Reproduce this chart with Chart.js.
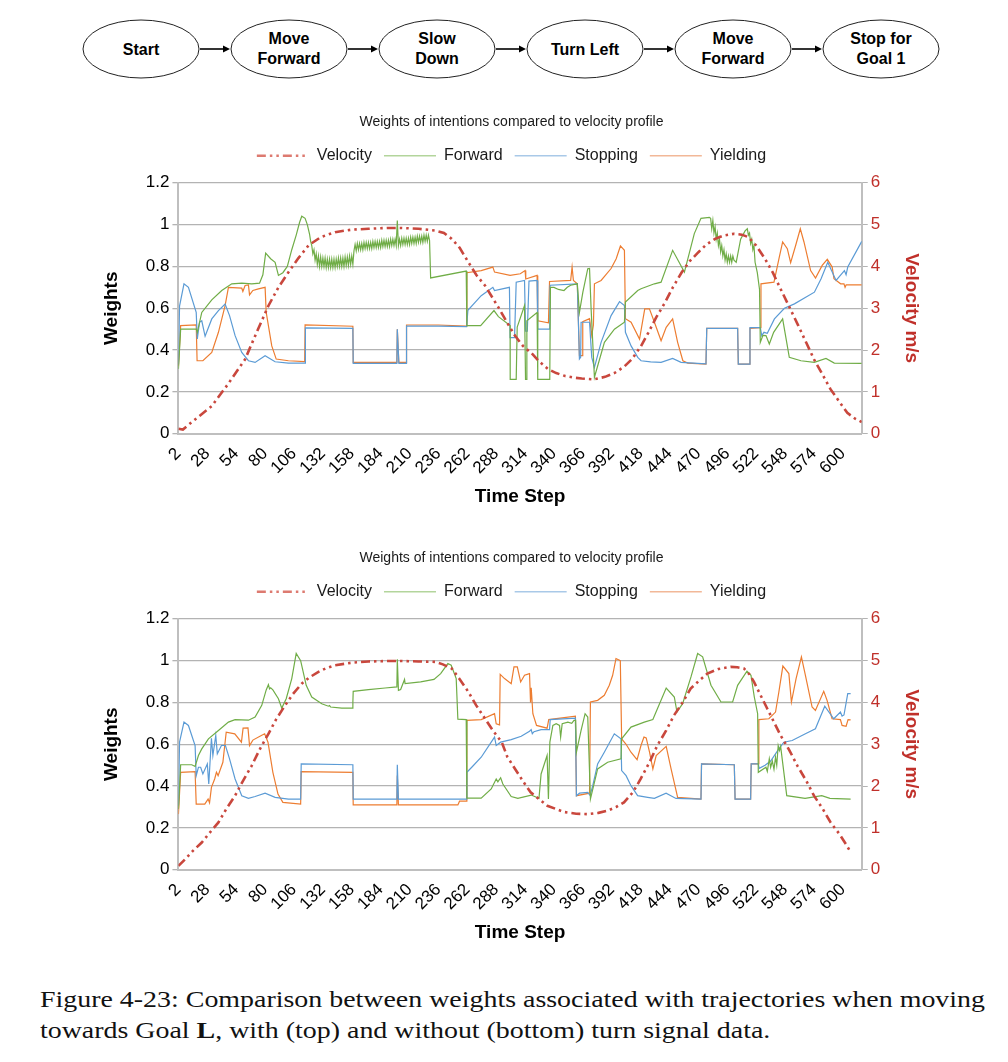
<!DOCTYPE html>
<html>
<head>
<meta charset="utf-8">
<script src="https://cdn.jsdelivr.net/npm/chart.js@4.4.0/dist/chart.umd.min.js"></script>
<style>
body { margin: 0; background: #fff; width: 1008px; height: 1062px; position: relative; overflow: hidden; font-family: "Liberation Sans", Arial, sans-serif; }
#flow { position: absolute; left: 0; top: 0; }
.chartBox { position: absolute; left: 0; width: 1008px; height: 420px; }
#caption { position: absolute; left: 40px; top: 984px; font-family: "Liberation Serif", serif; font-size: 23px; line-height: 31px; color: #111; white-space: nowrap; }
#caption span { display: block; transform-origin: left center; }
</style>
</head>
<body>
<svg id="flow" width="1008" height="100"></svg>
<div class="chartBox" style="top:100px"><canvas id="topChart"></canvas></div>
<div class="chartBox" style="top:536px"><canvas id="bottomChart"></canvas></div>
<div id="caption">
  <span>Figure 4-23: Comparison between weights associated with trajectories when moving</span>
  <span>towards Goal <b>L</b>, with (top) and without (bottom) turn signal data.</span>
</div>
<script>
// --- labels & ticks ---
const flowLabels = [["Start"], ["Move", "Forward"], ["Slow", "Down"], ["Turn Left"], ["Move", "Forward"], ["Stop for", "Goal 1"]];
const seriesNames = ["Velocity", "Forward", "Stopping", "Yielding"];
const xTicks = [2, 28, 54, 80, 106, 132, 158, 184, 210, 236, 262, 288, 314, 340, 366, 392, 418, 444, 470, 496, 522, 548, 574, 600];
const weightTicks = [0, 0.2, 0.4, 0.6, 0.8, 1, 1.2];
const weightMinorTicks = [0.1, 0.3, 0.5, 0.7, 0.9, 1.1];
const velocityTicks = [0, 1, 2, 3, 4, 5, 6];

// --- top chart (with turn signal): [time step, value] ---
const topVelocity = [[2,0.12],[6,0.1],[15,0.3],[32,0.66],[47,1.2],[62,1.78],[72,2.4],[83,3.06],[92,3.5],[101,3.86],[110,4.2],[119,4.5],[130,4.7],[143,4.82],[158,4.88],[173,4.9],[190,4.92],[203,4.92],[218,4.9],[233,4.86],[241,4.8],[248,4.66],[255,4.45],[263,4.1],[270,3.8],[278,3.54],[290,3.02],[298,2.65],[305,2.34],[312,2.1],[320,1.92],[327,1.72],[335,1.54],[342,1.45],[350,1.38],[358,1.34],[365,1.32],[376,1.3],[386,1.36],[395,1.46],[403,1.6],[410,1.78],[418,2.08],[425,2.42],[432,2.78],[440,3.14],[447,3.5],[455,3.86],[462,4.12],[470,4.34],[477,4.52],[485,4.66],[493,4.74],[502,4.78],[509,4.76],[515,4.7],[522,4.5],[530,4.18],[537,3.85],[544,3.46],[552,3.02],[560,2.58],[567,2.18],[574,1.78],[582,1.4],[589,1.06],[597,0.76],[604,0.5],[611,0.36],[617,0.28]];

const topForwardA = [[2,0.31],[4,0.5],[18,0.5],[19,0.485],[23,0.58],[32,0.64],[41,0.685],[50,0.717],[59,0.72],[68,0.717],[75,0.72],[78,0.76],[80.5,0.864],[85,0.837],[89,0.82],[92,0.757],[96,0.77],[100,0.8],[104,0.88],[108,0.95],[111,1.01],[113,1.04],[116,1.03],[118,1.0],[120,0.955],[121,0.92]];
const topForwardZig1 = [[122,0.9],[123,0.86],[124,0.88],[125,0.83],[126,0.86],[127,0.81],[128,0.85],[129,0.8],[130,0.845],[131,0.8],[132,0.84],[133,0.8],[134,0.84],[135,0.795],[136,0.835],[137,0.795],[138,0.835],[139,0.795],[140,0.835],[141,0.795],[142,0.835],[143,0.795],[144,0.835],[145,0.8],[146,0.84],[147,0.8],[148,0.84],[149,0.8],[150,0.84],[151,0.8],[152,0.845],[153,0.805],[154,0.845],[155,0.805],[156,0.85],[157,0.81],[158,0.85],[159,0.81]];
const topForwardZig2 = [[160,0.875],[161,0.905],[162,0.875],[163,0.91],[164,0.88],[165,0.91],[166,0.88],[167,0.91],[168,0.88],[169,0.915],[170,0.885],[171,0.915],[172,0.885],[173,0.915],[174,0.885],[175,0.915],[176,0.885],[177,0.92],[178,0.89],[179,0.92],[180,0.89],[181,0.92],[182,0.89],[183,0.92],[184,0.89],[185,0.925],[186,0.895],[187,0.925],[188,0.895],[189,0.925],[190,0.895],[191,0.925],[192,0.895],[193,0.93],[194,0.9],[195,0.93],[196,0.9],[197,0.93],[198,0.9],[199,1.02],[200,0.9],[201,0.93],[202,0.9],[203,0.935],[204,0.905],[205,0.935],[206,0.905],[207,0.935],[208,0.905],[209,0.935],[210,0.905],[211,0.94],[212,0.91],[213,0.94],[214,0.91],[215,0.94],[216,0.91],[217,0.945],[218,0.915],[219,0.945],[220,0.915],[221,0.945],[222,0.915],[223,0.95],[224,0.92],[225,0.95],[226,0.92],[227,0.95],[228,0.925]];
const topForwardB = [[229,0.745],[261,0.778],[261.6,0.517],[274,0.517],[286,0.589],[290,0.56],[300.5,0.517],[300.6,0.26],[306,0.26],[306.9,0.51],[313.5,0.613],[314.4,0.26],[315.5,0.26],[315.6,0.54],[324.8,0.58],[325.4,0.26],[336.2,0.26],[336.8,0.7],[340,0.7],[344,0.69],[349,0.685],[352,0.7],[355,0.71],[361,0.717],[362.9,0.58],[366,0.677],[370.4,0.789],[372,0.79],[373.4,0.6],[376.4,0.27],[385.4,0.437],[394.4,0.5],[403.4,0.533],[404.3,0.63],[415.4,0.685],[418.4,0.693],[430.4,0.717],[436.4,0.725],[446.8,0.877],[457.4,0.773],[466.3,0.957],[472.3,1.03],[479.8,1.035]];
const topForwardZig3 = [[481,1.03],[482,0.98],[483,1.02],[484,0.96],[485,0.99],[486,0.93],[487,0.96],[488,0.9],[489,0.93],[490,0.87],[491,0.9],[492,0.85],[493,0.88],[494,0.83],[495,0.86],[496,0.82],[497,0.85],[498,0.82],[499,0.85],[500,0.82],[501,0.85],[502,0.83]];
const topForwardC = [[504,0.82],[508,0.93],[512,0.97],[514,0.98],[515,0.95],[516,0.96],[517,0.91],[518,0.93],[519,0.88],[520,0.9],[521,0.82],[523,0.77],[525,0.69],[525.7,0.437],[528,0.47],[530.8,0.469],[533.8,0.429],[537.7,0.485],[545.8,0.549],[551.8,0.365],[562.3,0.349],[574.3,0.341],[584.8,0.36],[592.3,0.338],[617,0.336]];

const topStopping = [[2,0.33],[3,0.61],[7,0.717],[11,0.7],[18,0.58],[19,0.453],[21,0.533],[23,0.54],[26,0.466],[32,0.549],[38,0.589],[44,0.62],[48,0.565],[53,0.469],[59,0.389],[65,0.349],[71,0.341],[80,0.373],[89,0.344],[101,0.338],[116,0.338],[116.3,0.506],[159,0.504],[159.3,0.336],[198.6,0.336],[199,0.5],[200.4,0.336],[207,0.336],[207.3,0.515],[236,0.515],[261.4,0.512],[262.5,0.59],[274.5,0.66],[285,0.7],[286.5,0.685],[299.9,0.7],[300.5,0.46],[304.5,0.46],[306,0.725],[313.5,0.733],[314.4,0.49],[316,0.49],[317.5,0.73],[324.8,0.733],[325.4,0.5],[336.2,0.5],[336.5,0.71],[361,0.717],[362.9,0.357],[364,0.365],[364.4,0.533],[372,0.533],[374,0.365],[376.4,0.317],[382.4,0.437],[391.4,0.565],[399,0.632],[403.4,0.613],[404.3,0.485],[409.4,0.42],[415.4,0.365],[418.4,0.349],[427,0.344],[436.4,0.341],[446.8,0.36],[454.4,0.341],[476.8,0.334],[477.5,0.504],[505.3,0.504],[505.9,0.333],[515.8,0.333],[516.4,0.507],[525.7,0.507],[527,0.469],[529,0.485],[532,0.48],[538.4,0.549],[547.4,0.6],[556.4,0.621],[574.4,0.677],[580.4,0.741],[586.4,0.82],[593.9,0.733],[601.4,0.78],[602.9,0.76],[604.4,0.797],[617,0.92]];

const topYielding = [[2,0.325],[4,0.517],[18,0.52],[18.8,0.349],[24,0.349],[32,0.389],[38,0.485],[44,0.613],[47,0.7],[59,0.696],[60,0.68],[62,0.709],[65,0.712],[66,0.664],[69,0.685],[74,0.693],[80,0.7],[81,0.58],[86,0.42],[90,0.357],[101,0.349],[115.6,0.345],[116,0.52],[159,0.514],[159.3,0.341],[198.6,0.341],[199,0.5],[200.4,0.341],[207,0.341],[207.3,0.52],[236,0.52],[261,0.515],[261.6,0.77],[274.5,0.78],[285,0.797],[286.5,0.773],[300.5,0.757],[309.7,0.765],[314,0.78],[314.6,0.74],[324.8,0.757],[325.4,0.54],[335,0.53],[336,0.728],[355,0.733],[356.3,0.797],[357.5,0.733],[361,0.717],[362.9,0.373],[365.5,0.373],[365.9,0.536],[372,0.55],[374,0.47],[375.5,0.52],[376.4,0.717],[382.4,0.733],[391.4,0.79],[396,0.837],[399.8,0.898],[403.4,0.877],[404.3,0.55],[409.4,0.533],[417,0.453],[421.7,0.597],[425.9,0.597],[430.4,0.533],[436.4,0.445],[441,0.509],[446.8,0.549],[451.3,0.437],[456,0.349],[460.4,0.338],[476.8,0.333],[477.5,0.504],[505.3,0.504],[505.9,0.333],[515.8,0.333],[516.4,0.504],[525.7,0.507],[526.3,0.717],[538,0.725],[542.5,0.837],[545.8,0.917],[550,0.885],[553,0.818],[557.5,0.9],[561.7,0.98],[565,0.917],[571,0.78],[575.4,0.744],[581.4,0.805],[586,0.834],[590.4,0.797],[592,0.741],[598,0.717],[601,0.717],[602,0.7],[603,0.712],[617,0.712]];

// --- bottom chart (without turn signal) ---
const bottomVelocity = [[2,0.09],[8,0.25],[15,0.45],[23,0.65],[30,0.88],[38,1.13],[45,1.45],[53,1.77],[60,2.12],[68,2.49],[75,2.87],[83,3.25],[90,3.6],[98,3.93],[105,4.2],[113,4.45],[120,4.6],[128,4.73],[135,4.82],[143,4.89],[158,4.95],[173,4.98],[190,4.99],[203,4.99],[218,4.98],[233,4.97],[240,4.91],[248,4.81],[255,4.56],[263,4.25],[270,3.93],[278,3.61],[285,3.33],[293,3.05],[298,2.7],[305,2.41],[312,2.12],[319,1.85],[327,1.68],[334,1.53],[342,1.45],[349,1.38],[360,1.34],[370,1.33],[380,1.36],[388,1.41],[396,1.5],[403,1.61],[411,1.85],[418,2.17],[426,2.57],[433,2.97],[441,3.33],[448,3.69],[456,4.01],[463,4.33],[471,4.53],[478,4.69],[488,4.8],[499,4.85],[505,4.84],[511,4.81],[516,4.67],[520,4.49],[526,4.17],[532,3.85],[538,3.53],[544,3.21],[552,2.85],[559,2.49],[567,2.13],[574,1.77],[582,1.45],[589,1.13],[597,0.85],[603,0.6],[607,0.42]];

const bottomForward = [[2,0.29],[4,0.502],[14,0.502],[17,0.494],[20,0.546],[23,0.578],[29,0.626],[38,0.666],[47,0.706],[53,0.718],[65,0.715],[71,0.73],[77,0.786],[81,0.86],[83,0.885],[84,0.865],[85,0.87],[87,0.86],[92,0.818],[95,0.773],[99,0.818],[104,0.914],[108,1.034],[112,1.0],[117,0.882],[122,0.826],[131,0.794],[137,0.782],[138,0.785],[139,0.778],[149,0.773],[158.5,0.773],[159,0.8],[159.3,0.853],[173,0.861],[188,0.869],[198.6,0.874],[199,1.006],[200,0.858],[202,0.862],[205.5,0.91],[206,0.89],[220,0.898],[232,0.91],[238,0.938],[244.5,0.986],[247.5,0.978],[252,0.914],[253.5,0.72],[261,0.718],[261.6,0.342],[274.5,0.342],[283.5,0.386],[288,0.434],[289.5,0.42],[292,0.44],[294,0.41],[301.5,0.35],[307.5,0.341],[319.5,0.357],[326.5,0.341],[328.4,0.458],[333.8,0.546],[335,0.338],[336.3,0.61],[339,0.69],[342,0.698],[345,0.69],[346,0.634],[347.4,0.698],[352.5,0.706],[356,0.7],[358,0.714],[359.5,0.714],[360.2,0.562],[364.4,0.666],[368,0.746],[370.4,0.73],[372.8,0.338],[379.3,0.482],[388.3,0.514],[400.3,0.53],[400.9,0.626],[409.3,0.682],[421.3,0.706],[429,0.718],[441,0.869],[448.3,0.826],[450.7,0.754],[455.8,0.794],[463.3,0.922],[469.3,1.034],[473.8,1.018],[481.3,0.882],[490.3,0.802],[500.8,0.802],[505.3,0.882],[513.7,0.949],[517.3,0.93],[520.3,0.826],[523.3,0.746],[523.9,0.466],[530.8,0.49],[532,0.47],[533.8,0.53],[535,0.49],[536.5,0.52],[538,0.48],[539.4,0.538],[540.5,0.5],[541.8,0.594],[543,0.57],[544,0.59],[549.5,0.354],[566,0.341],[581,0.354],[588.4,0.341],[607,0.338]];

const bottomStopping = [[2,0.306],[3,0.61],[7,0.706],[11,0.69],[17,0.594],[18,0.45],[20,0.49],[22,0.49],[24,0.458],[28,0.506],[29.3,0.41],[31.7,0.629],[33,0.546],[35.6,0.642],[37,0.554],[40.7,0.594],[44.3,0.594],[48,0.53],[53,0.434],[59,0.354],[65,0.341],[71,0.35],[80,0.366],[89,0.346],[101,0.338],[112,0.338],[112.5,0.506],[159,0.502],[159.3,0.338],[198.6,0.338],[199,0.502],[200,0.338],[261,0.338],[261.6,0.466],[266,0.49],[274.5,0.538],[286.5,0.634],[288,0.594],[292,0.61],[301.5,0.622],[310.5,0.638],[318,0.662],[319.5,0.67],[320.5,0.65],[322,0.66],[328.4,0.67],[336,0.67],[336.6,0.718],[359.3,0.725],[360.2,0.354],[363,0.366],[370.4,0.37],[372.5,0.355],[374.9,0.402],[379.3,0.506],[385.3,0.562],[394.3,0.65],[400.3,0.626],[400.9,0.474],[404.9,0.45],[409.3,0.402],[415.3,0.354],[424.3,0.346],[430.4,0.341],[440.9,0.366],[449.8,0.341],[472.3,0.338],[472.8,0.506],[502.3,0.502],[503,0.338],[517,0.338],[517.5,0.506],[523.8,0.506],[524.8,0.485],[530,0.5],[535,0.52],[542.4,0.578],[546.9,0.61],[554.4,0.618],[566.3,0.65],[575.3,0.674],[583.7,0.782],[591.8,0.722],[597.8,0.754],[599.3,0.735],[601,0.74],[604.4,0.842],[607,0.842]];

const bottomYielding = [[2,0.266],[4,0.466],[17,0.469],[18,0.314],[25.7,0.314],[28.7,0.338],[30,0.32],[31.7,0.394],[34.6,0.434],[36.2,0.466],[37.7,0.45],[42,0.514],[45,0.658],[52.7,0.65],[58.7,0.61],[60.2,0.677],[64.6,0.678],[66,0.594],[69,0.62],[76.6,0.642],[79.6,0.65],[82.6,0.61],[87,0.466],[91.6,0.362],[96,0.322],[112,0.314],[112.5,0.469],[159,0.466],[159.3,0.31],[198.6,0.31],[199,0.45],[200,0.31],[253.5,0.31],[255,0.328],[261,0.328],[261.6,0.714],[274.5,0.718],[286.5,0.746],[288,0.698],[291,0.693],[291.6,0.934],[295.5,0.914],[301.5,0.89],[304,0.97],[307,0.97],[310,0.898],[313.5,0.93],[318,0.938],[318.9,0.8],[319.5,0.87],[321,0.746],[324.3,0.69],[333.8,0.677],[335.3,0.718],[359.3,0.734],[360.2,0.354],[372,0.366],[372.8,0.802],[379.3,0.81],[385.3,0.834],[389.8,0.882],[392.8,0.93],[395.8,1.01],[399.7,1.0],[400.9,0.626],[404.9,0.6],[409.3,0.562],[414.8,0.526],[418.3,0.594],[421,0.634],[423,0.63],[426,0.562],[429,0.482],[432,0.546],[441,0.59],[445.4,0.482],[451.3,0.346],[472.3,0.338],[472.8,0.506],[502.3,0.502],[503,0.338],[517,0.338],[517.5,0.506],[523.8,0.506],[524.4,0.718],[533.4,0.722],[539.4,0.754],[542.4,0.85],[546,0.974],[551.4,0.938],[553.7,0.802],[557.9,0.914],[562.7,1.018],[566.3,0.93],[572.3,0.778],[575.3,0.762],[582.8,0.853],[585.8,0.81],[590.3,0.722],[597.8,0.718],[599.3,0.69],[602.9,0.686],[604.7,0.718],[607,0.717]];

// --- colours ---
const velocityColor = "#c9473d";
const axisRed = "#c0302a";
const lineColors = { Forward: "#70ad47", Stopping: "#5b9bd5", Yielding: "#ed7d31" };
const legendColors = ["#dd7a70", "#b3d59c", "#a9c9e8", "#f2b898"];

// --- 1. FLOW DIAGRAM ---
function drawFlow() {
    const svg = document.getElementById("flow");
    const cx0 = 141, gap = 148, cy = 49, rx = 58, ry = 29;
    let html = "";
    flowLabels.forEach((lines, i) => {
        const cx = cx0 + i * gap;
        html += `<ellipse cx="${cx}" cy="${cy}" rx="${rx}" ry="${ry}" fill="#fff" stroke="#222" stroke-width="1"/>`;
        const y0 = lines.length === 1 ? cy + 6 : cy - 5;
        lines.forEach((t, j) => {
            html += `<text x="${cx}" y="${y0 + j * 20}" text-anchor="middle" font-family="Liberation Sans, Arial, sans-serif" font-weight="bold" font-size="16" fill="#000">${t}</text>`;
        });
        if (i < flowLabels.length - 1) {
            const x1 = cx + rx + 1, x2 = cx + gap - rx - 1;
            html += `<line x1="${x1}" y1="${cy}" x2="${x2 - 6}" y2="${cy}" stroke="#000" stroke-width="1.6"/>`;
            html += `<polygon points="${x2},${cy} ${x2 - 7},${cy - 3.5} ${x2 - 7},${cy + 3.5}" fill="#000"/>`;
        }
    });
    svg.innerHTML = html;
}

// --- 2. CHARTS ---
Chart.defaults.font.family = '"Liberation Sans", Arial, sans-serif';

const toXY = arr => arr.map(p => ({ x: p[0], y: p[1] }));
const isMajor = v => Math.round(v * 10) % 2 === 0;

// extra room under the legend, as in the original
const legendGap = {
    id: "legendGap",
    beforeInit(chart) {
        const fit = chart.legend.fit;
        chart.legend.fit = function () {
            fit.call(this);
            this.height += 9;
        };
    }
};

function legendLabels(chart) {
    const items = Chart.defaults.plugins.legend.labels.generateLabels(chart);
    items.forEach((it, i) => {
        it.lineDash = chart.data.datasets[it.datasetIndex].borderDash || [];
        it.strokeStyle = legendColors[i];
        it.lineWidth = i === 0 ? 2.4 : 1.6;
    });
    return items;
}

function makeChart(id, vel, fwd, stop, yld) {
    const datasets = [
        { label: seriesNames[0], data: toXY(vel), yAxisID: "y1", borderColor: velocityColor, borderWidth: 2.6, borderDash: [9, 4, 2.5, 4, 2.5, 4] },
        { label: seriesNames[1], data: toXY(fwd), yAxisID: "y", borderColor: lineColors.Forward, borderWidth: 1.2 },
        { label: seriesNames[2], data: toXY(stop), yAxisID: "y", borderColor: lineColors.Stopping, borderWidth: 1.2 },
        { label: seriesNames[3], data: toXY(yld), yAxisID: "y", borderColor: lineColors.Yielding, borderWidth: 1.2 }
    ];
    return new Chart(document.getElementById(id), {
        type: "line",
        data: { datasets },
        plugins: [legendGap],
        options: {
            responsive: true,
            maintainAspectRatio: false,
            animation: false,
            elements: { point: { radius: 0 }, line: { tension: 0 } },
            layout: { padding: { left: 96, right: 81, top: 0, bottom: 8 } },
            plugins: {
                title: { display: true, text: "Weights of intentions compared to velocity profile", color: "#1a1a1a", font: { size: 14, weight: "normal" }, padding: { top: 14, bottom: 5 } },
                legend: { labels: { usePointStyle: true, pointStyle: "line", pointStyleWidth: 52, color: "#1a1a1a", font: { size: 16 }, padding: 12, generateLabels: legendLabels } },
                tooltip: { enabled: false }
            },
            scales: {
                x: {
                    type: "linear", min: 2, max: 617,
                    afterBuildTicks: s => { s.ticks = xTicks.map(v => ({ value: v })); },
                    grid: { display: false },
                    border: { display: true, color: "#bfbfbf", width: 2 },
                    ticks: { minRotation: 45, maxRotation: 45, autoSkip: false, color: "#000", font: { size: 17 }, padding: 2, callback: v => String(v) },
                    title: { display: true, text: "Time Step", color: "#000", font: { size: 19, weight: "bold" }, padding: { top: 5, bottom: 4 } }
                },
                y: {
                    position: "left", min: 0, max: 1.2,
                    afterBuildTicks: s => { s.ticks = weightTicks.concat(weightMinorTicks).sort((a, b) => a - b).map(v => ({ value: v })); },
                    grid: {
                        color: c => (c.tick && isMajor(c.tick.value)) ? "#b3b3b3" : "#e3e3e3",
                        lineWidth: c => (c.tick && isMajor(c.tick.value)) ? 1.3 : 2,
                        tickColor: c => (c.tick && isMajor(c.tick.value)) ? "#b3b3b3" : "rgba(0,0,0,0)",
                        tickLength: 6
                    },
                    border: { color: "#bfbfbf", width: 2 },
                    ticks: { color: "#000", font: { size: 17 }, padding: 3, callback: v => isMajor(v) ? String(+v.toFixed(1)) : "" },
                    title: { display: true, text: "Weights", color: "#000", font: { size: 19, weight: "bold" }, padding: { top: 4, bottom: 20 } }
                },
                y1: {
                    position: "right", min: 0, max: 6,
                    afterBuildTicks: s => { s.ticks = velocityTicks.map(v => ({ value: v })); },
                    grid: { drawOnChartArea: false, color: "#b3b3b3", tickLength: 6 },
                    border: { color: "#bfbfbf", width: 2 },
                    ticks: { color: axisRed, font: { size: 17 }, padding: 3 },
                    title: { display: true, text: "Velocity m/s", color: axisRed, font: { size: 19, weight: "bold" }, padding: { top: 4, bottom: 17 } }
                }
            }
        }
    });
}

// --- 3. CAPTION FIT ---
function fitCaption() {
    const spans = document.querySelectorAll("#caption span");
    const w = spans[0].getBoundingClientRect().width;
    const k = 945 / w;
    spans.forEach(s => { s.style.transform = `scaleX(${k})`; });
}

drawFlow();
makeChart("topChart", topVelocity, topForwardA.concat(topForwardZig1, topForwardZig2, topForwardB, topForwardZig3, topForwardC), topStopping, topYielding);
makeChart("bottomChart", bottomVelocity, bottomForward, bottomStopping, bottomYielding);
fitCaption();
</script>
</body>
</html>
